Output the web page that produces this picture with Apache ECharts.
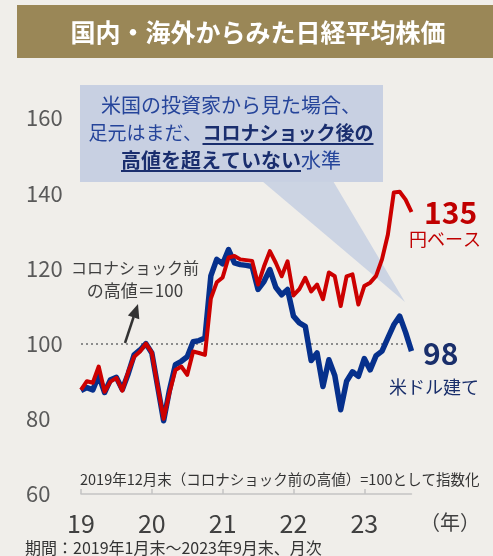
<!DOCTYPE html>
<html>
<head>
<meta charset="utf-8">
<script src="https://cdn.jsdelivr.net/npm/echarts@6/dist/echarts.min.js"></script>
<style>
  html, body { margin: 0; padding: 0; background: #f0eeea; }
  #chart { width: 493px; height: 556px; }
</style>
</head>
<body>
<div id="chart"></div>
<script>
// monthly, 2019-01 .. 2023-09, index (2019/12 = 100)
const months = [];
for (let y = 2019; y <= 2023; y++) {
  for (let m = 1; m <= 12; m++) {
    if (y === 2023 && m > 9) break;
    months.push(y + "/" + m);
  }
}
const yearLabels = ["19", "20", "21", "22", "23"];

const yenBase = [
  87.7, 90, 89.6, 93.9, 87.2, 89.9, 90.9, 87.5, 92.5, 96.5,
  97.9, 100, 97.6, 88.5, 80, 87, 93, 93.9, 91.7, 97.9,
  97.5, 97, 112, 116.3, 117.6, 122.9, 123.3, 122.4, 122.2, 122,
  115.7, 120.5, 124.6, 121.5, 117.9, 121.9, 112.8, 114.5, 117.5, 113.9,
  115.7, 111.8, 118.9, 117.9, 110, 117.9, 118.4, 110.4, 115.3, 116.2,
  118, 122.4, 129, 140.2, 140.4, 138.3, 135
];
const usdBase = [
  87.5, 88.3, 87.7, 91.5, 87, 90.4, 91, 87.8, 92, 97,
  98.3, 100, 97.5, 88.5, 79.5, 87.7, 94.4, 95.3, 96.5, 100.5,
  100.8, 101.5, 118, 122.4, 121.2, 125, 121.5, 121, 120.8, 120.5,
  114.4, 116.5, 119.7, 115, 113, 114.4, 107.3, 105.5, 104.6, 95.5,
  97.5, 88.6, 95.7, 91.5, 82.4, 90, 92.5, 91.3, 96, 93,
  96.8, 98, 101.5, 105, 107.3, 103, 98
];

const FONT = '"Noto Sans CJK JP", "Noto Sans", sans-serif';
const RED = "#cc0000";
const NAVY = "#06308c";

function txt(text, x, y, size, color, opts) {
  opts = opts || {};
  const align = opts.align || "left";
  return {
    type: "text",
    x: x,
    y: y,
    z: 10,
    style: {
      text: text,
      fill: color,
      font: (opts.bold ? "bold " : "") + size + "px " + FONT,
      align: align,
      verticalAlign: "middle",
      textAlign: align,
      textVerticalAlign: "middle"
    }
  };
}

const chart = echarts.init(document.getElementById("chart"), null, { renderer: "canvas" });

chart.setOption({
  animation: false,
  backgroundColor: "#f0eeea",
  grid: { left: 81, right: 81.5, top: 118, bottom: 62 },
  xAxis: {
    type: "category",
    data: months,
    boundaryGap: false,
    axisLine: { lineStyle: { color: "#c4c4c4", width: 1.5 } },
    axisTick: { inside: true, length: 5, interval: 11, lineStyle: { color: "#c4c4c4", width: 1.5 } },
    axisLabel: {
      interval: 11,
      margin: 17,
      fontSize: 25,
      fontFamily: FONT,
      color: "#404040",
      formatter: (v, i) => yearLabels[Math.floor(i / 12)]
    },
    splitLine: { show: false }
  },
  yAxis: {
    type: "value",
    min: 60,
    max: 160,
    interval: 20,
    axisLine: { show: false },
    axisTick: { show: false },
    splitLine: { show: false },
    axisLabel: { align: "left", margin: 55, fontSize: 22, fontFamily: FONT, color: "#595959" }
  },
  series: [
    {
      name: "米ドル建て",
      type: "line",
      data: usdBase,
      symbol: "none",
      z: 3,
      lineStyle: { color: NAVY, width: 5.5, join: "round" }
    },
    {
      name: "円ベース",
      type: "line",
      data: yenBase,
      symbol: "none",
      z: 4,
      lineStyle: { color: RED, width: 4, join: "round" },
      markLine: {
        silent: true,
        symbol: ["none", "none"],
        label: { show: false },
        lineStyle: { color: "#8c8c8c", width: 2, type: [2, 3] },
        z: 2,
        data: [[{ coord: [0, 100] }, { coord: [55, 100] }]]
      }
    }
  ],
  graphic: [
    // title banner
    { type: "rect", shape: { x: 17, y: 5, width: 476, height: 53 }, style: { fill: "#9a8757" }, z: 1 },
    txt("国内・海外からみた日経平均株価", 258, 32, 25, "#ffffff", { bold: true, align: "center" }),

    // callout
    { type: "rect", shape: { x: 80, y: 85, width: 303, height: 97 }, style: { fill: "#c8d0e2" }, z: 1 },
    { type: "polygon", shape: { points: [[262, 181], [333, 181], [405, 302]] }, style: { fill: "#c8d0e2", opacity: 0.9 }, z: 1 },
    txt("米国の投資家から見た場合、", 231, 105, 20, "#25449a", { align: "center" }),
    txt("足元はまだ、", 88.5, 133, 19, "#25449a"),
    txt("コロナショック後の", 202.5, 133, 19, "#1a2e6e", { bold: true }),
    { type: "line", shape: { x1: 202.5, y1: 144, x2: 373.5, y2: 144 }, style: { stroke: "#1a2e6e", lineWidth: 2 }, z: 10 },
    txt("高値を超えていない", 121, 160, 20, "#1a2e6e", { bold: true }),
    txt("水準", 301, 160, 20, "#25449a"),
    { type: "line", shape: { x1: 121, y1: 171, x2: 301, y2: 171 }, style: { stroke: "#1a2e6e", lineWidth: 2 }, z: 10 },

    // end labels
    txt("135", 424, 213, 30, "#c00000", { bold: true }),
    txt("円ベース", 409, 239, 18, "#c00000"),
    txt("98", 423, 354, 30, "#1a2f6b", { bold: true }),
    txt("米ドル建て", 389, 387, 18, "#1a2f6b"),

    // pre-covid high note + arrow
    txt("コロナショック前", 135, 268, 16, "#404040", { align: "center" }),
    txt("の高値＝100", 135, 291, 17, "#404040", { align: "center" }),
    { type: "line", shape: { x1: 125, y1: 343, x2: 133.6, y2: 317 }, style: { stroke: "#333333", lineWidth: 2.5 }, z: 10 },
    { type: "polygon", shape: { points: [[138, 304], [127.9, 315.4], [139.3, 319.2]] }, style: { fill: "#333333" }, z: 10 },

    // notes
    txt("2019年12月末（コロナショック前の高値）=100として指数化", 80, 479, 14.5, "#333333"),
    txt("（年）", 450, 522, 20, "#404040", { align: "center" }),
    txt("期間：2019年1月末～2023年9月末、月次", 25, 548, 16, "#333333")
  ]
});
</script>
</body>
</html>
